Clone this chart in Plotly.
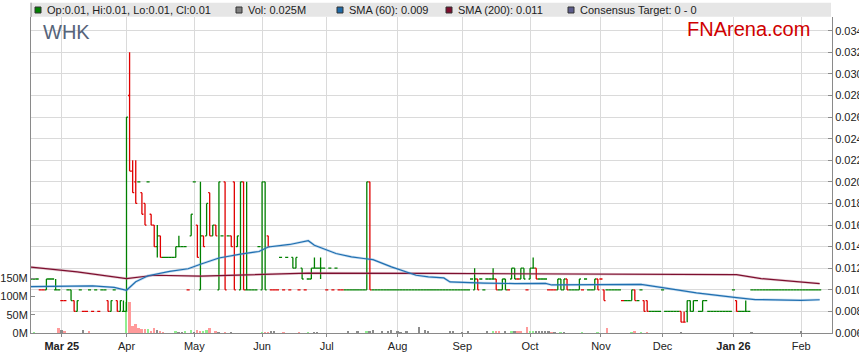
import pandas as pd
import plotly.graph_objects as go

# ---------------- data ----------------
trade_dates = pd.bdate_range("2025-02-17", periods=257)

opens = [
    0.011, 0.011, 0.011, 0.010, 0.010,   # Feb 17
    0.010, 0.011, 0.011, 0.010, 0.010,   # Feb 24
    0.009, 0.009, 0.010, 0.010, 0.009,   # Mar 3
    0.008, 0.010, 0.008, 0.008, 0.010,   # Mar 10
    0.008, 0.010, 0.008, 0.010, 0.010,   # Mar 17
    0.009, 0.008, 0.010, 0.009, 0.008,   # Mar 24
    0.008, 0.008, 0.028, 0.021, 0.020,   # Mar 31
    0.020, 0.019, 0.018, 0.020, 0.017,   # Apr 7
    0.016, 0.014, 0.015, 0.013, 0.013,   # Apr 14
    0.013, 0.013, 0.013, 0.014, 0.014,   # Apr 21
    0.014, 0.010, 0.015, 0.020, 0.016,   # Apr 28
    0.010, 0.015, 0.015, 0.019, 0.015,   # May 5
    0.016, 0.010, 0.015, 0.020, 0.015,   # May 12
    0.015, 0.020, 0.014, 0.010, 0.020,   # May 19
    0.010, 0.010, 0.010, 0.010, 0.014,   # May 26
    0.010, 0.020, 0.015, 0.010, 0.010,   # Jun 2
    0.010, 0.013, 0.010, 0.013, 0.010,   # Jun 9
    0.013, 0.012, 0.010, 0.012, 0.010,   # Jun 16
    0.011, 0.011, 0.012, 0.012, 0.012,   # Jun 23
    0.012, 0.010, 0.012, 0.010, 0.012,   # Jun 30
    0.010, 0.010, 0.010, 0.010, 0.010,   # Jul 7
    0.010, 0.010, 0.010, 0.010, 0.010,   # Jul 14
    0.020, 0.010, 0.010, 0.010, 0.010,   # Jul 21
    0.010, 0.010, 0.010, 0.010, 0.010,   # Jul 28
    0.010, 0.010, 0.010, 0.010, 0.010,   # Aug 4
    0.010, 0.010, 0.010, 0.010, 0.010,   # Aug 11
    0.010, 0.010, 0.010, 0.010, 0.010,   # Aug 18
    0.010, 0.010, 0.010, 0.010, 0.010,   # Aug 25
    0.010, 0.010, 0.010, 0.011, 0.010,   # Sep 1
    0.011, 0.011, 0.010, 0.011, 0.011,   # Sep 8
    0.011, 0.011, 0.010, 0.010, 0.011,   # Sep 15
    0.010, 0.011, 0.012, 0.011, 0.011,   # Sep 22
    0.012, 0.010, 0.011, 0.012, 0.012,   # Sep 29
    0.011, 0.011, 0.011, 0.010, 0.010,   # Oct 6
    0.010, 0.010, 0.011, 0.010, 0.011,   # Oct 13
    0.010, 0.010, 0.010, 0.010, 0.010,   # Oct 20
    0.011, 0.010, 0.010, 0.010, 0.011,   # Oct 27
    0.011, 0.010, 0.010, 0.010, 0.010,   # Nov 3
    0.010, 0.010, 0.009, 0.009, 0.009,   # Nov 10
    0.009, 0.010, 0.009, 0.010, 0.009,   # Nov 17
    0.009, 0.008, 0.008, 0.008, 0.008,   # Nov 24
    0.010, 0.008, 0.008, 0.008, 0.008,   # Dec 1
    0.008, 0.008, 0.007, 0.008, 0.009,   # Dec 8
    0.008, 0.009, 0.008, 0.008, 0.009,   # Dec 15
    0.008, 0.008, 0.008, 0.008, 0.008,   # Dec 22
    0.008, 0.008, 0.008, 0.010, 0.009,   # Dec 29
    0.008, 0.008, 0.008, 0.008, 0.010,   # Jan 5
    0.010, 0.010, 0.010, 0.010, 0.010,   # Jan 12
    0.010, 0.010, 0.010, 0.010, 0.010,   # Jan 19
    0.010, 0.010, 0.010, 0.010, 0.010,   # Jan 26
    0.010, 0.010, 0.010, 0.010, 0.010,   # Feb 2
    0.010, 0.010,                        # Feb 9
]
highs = [
    0.011, 0.011, 0.011, 0.010, 0.010,
    0.011, 0.011, 0.011, 0.011, 0.010,
    0.009, 0.009, 0.010, 0.010, 0.009,
    0.009, 0.010, 0.008, 0.008, 0.010,
    0.008, 0.010, 0.008, 0.010, 0.010,
    0.009, 0.009, 0.010, 0.009, 0.009,
    0.009, 0.026, 0.032, 0.022, 0.022,
    0.020, 0.019, 0.018, 0.020, 0.017,
    0.016, 0.016, 0.015, 0.013, 0.013,
    0.013, 0.013, 0.014, 0.015, 0.014,
    0.014, 0.010, 0.017, 0.020, 0.016,
    0.020, 0.015, 0.018, 0.019, 0.016,
    0.016, 0.020, 0.015, 0.020, 0.015,
    0.015, 0.020, 0.015, 0.020, 0.020,
    0.020, 0.010, 0.010, 0.010, 0.014,
    0.020, 0.020, 0.015, 0.010, 0.010,
    0.010, 0.013, 0.010, 0.013, 0.010,
    0.013, 0.013, 0.010, 0.012, 0.010,
    0.011, 0.012, 0.013, 0.012, 0.013,
    0.012, 0.010, 0.012, 0.010, 0.012,
    0.010, 0.010, 0.010, 0.010, 0.010,
    0.010, 0.010, 0.010, 0.010, 0.020,
    0.020, 0.010, 0.010, 0.010, 0.010,
    0.010, 0.010, 0.010, 0.010, 0.010,
    0.010, 0.010, 0.010, 0.010, 0.010,
    0.010, 0.010, 0.010, 0.010, 0.010,
    0.010, 0.010, 0.010, 0.010, 0.010,
    0.010, 0.010, 0.010, 0.010, 0.010,
    0.010, 0.010, 0.010, 0.011, 0.012,
    0.011, 0.011, 0.010, 0.011, 0.011,
    0.012, 0.011, 0.010, 0.011, 0.011,
    0.010, 0.012, 0.012, 0.011, 0.012,
    0.012, 0.010, 0.012, 0.013, 0.012,
    0.011, 0.011, 0.011, 0.010, 0.010,
    0.010, 0.011, 0.011, 0.011, 0.011,
    0.010, 0.010, 0.010, 0.011, 0.010,
    0.011, 0.010, 0.010, 0.011, 0.011,
    0.011, 0.010, 0.010, 0.010, 0.010,
    0.010, 0.010, 0.009, 0.009, 0.009,
    0.010, 0.010, 0.009, 0.010, 0.009,
    0.009, 0.008, 0.008, 0.008, 0.008,
    0.010, 0.008, 0.008, 0.008, 0.008,
    0.008, 0.008, 0.008, 0.009, 0.009,
    0.009, 0.009, 0.008, 0.009, 0.009,
    0.008, 0.008, 0.008, 0.008, 0.008,
    0.008, 0.008, 0.008, 0.010, 0.009,
    0.008, 0.008, 0.009, 0.008, 0.010,
    0.010, 0.010, 0.010, 0.010, 0.010,
    0.010, 0.010, 0.010, 0.010, 0.010,
    0.010, 0.010, 0.010, 0.010, 0.010,
    0.010, 0.010, 0.010, 0.010, 0.010,
    0.010, 0.010,
]
lows = [
    0.011, 0.011, 0.011, 0.010, 0.010,
    0.010, 0.011, 0.011, 0.010, 0.010,
    0.009, 0.009, 0.010, 0.009, 0.008,
    0.008, 0.010, 0.008, 0.008, 0.010,
    0.008, 0.010, 0.008, 0.010, 0.010,
    0.008, 0.008, 0.010, 0.008, 0.008,
    0.008, 0.008, 0.021, 0.019, 0.018,
    0.020, 0.017, 0.016, 0.020, 0.016,
    0.014, 0.013, 0.013, 0.013, 0.013,
    0.013, 0.013, 0.013, 0.014, 0.014,
    0.014, 0.010, 0.015, 0.020, 0.013,
    0.010, 0.014, 0.015, 0.015, 0.015,
    0.015, 0.010, 0.015, 0.010, 0.015,
    0.014, 0.010, 0.014, 0.010, 0.010,
    0.010, 0.010, 0.010, 0.010, 0.014,
    0.010, 0.010, 0.014, 0.010, 0.010,
    0.010, 0.013, 0.010, 0.013, 0.010,
    0.012, 0.012, 0.010, 0.011, 0.010,
    0.011, 0.011, 0.012, 0.012, 0.011,
    0.012, 0.010, 0.012, 0.010, 0.012,
    0.010, 0.010, 0.010, 0.010, 0.010,
    0.010, 0.010, 0.010, 0.010, 0.010,
    0.010, 0.010, 0.010, 0.010, 0.010,
    0.010, 0.010, 0.010, 0.010, 0.010,
    0.010, 0.010, 0.010, 0.010, 0.010,
    0.010, 0.010, 0.010, 0.010, 0.010,
    0.010, 0.010, 0.010, 0.010, 0.010,
    0.010, 0.010, 0.010, 0.010, 0.010,
    0.010, 0.010, 0.010, 0.011, 0.010,
    0.010, 0.011, 0.010, 0.011, 0.011,
    0.011, 0.010, 0.010, 0.010, 0.010,
    0.010, 0.011, 0.011, 0.011, 0.011,
    0.011, 0.010, 0.011, 0.012, 0.011,
    0.011, 0.011, 0.011, 0.010, 0.010,
    0.010, 0.010, 0.010, 0.010, 0.010,
    0.010, 0.010, 0.010, 0.010, 0.010,
    0.011, 0.010, 0.010, 0.010, 0.010,
    0.011, 0.009, 0.010, 0.010, 0.010,
    0.010, 0.010, 0.009, 0.009, 0.009,
    0.009, 0.009, 0.009, 0.010, 0.008,
    0.008, 0.008, 0.008, 0.008, 0.008,
    0.010, 0.008, 0.008, 0.008, 0.008,
    0.008, 0.007, 0.007, 0.007, 0.008,
    0.008, 0.009, 0.008, 0.008, 0.009,
    0.008, 0.008, 0.008, 0.008, 0.008,
    0.008, 0.008, 0.008, 0.010, 0.008,
    0.008, 0.008, 0.008, 0.008, 0.010,
    0.010, 0.010, 0.010, 0.010, 0.010,
    0.010, 0.010, 0.010, 0.010, 0.010,
    0.010, 0.010, 0.010, 0.010, 0.010,
    0.010, 0.010, 0.010, 0.010, 0.010,
    0.010, 0.010,
]
closes = [
    0.011, 0.011, 0.011, 0.010, 0.010,
    0.011, 0.011, 0.011, 0.010, 0.010,
    0.009, 0.009, 0.010, 0.009, 0.008,
    0.009, 0.010, 0.008, 0.008, 0.010,
    0.008, 0.010, 0.008, 0.010, 0.010,
    0.008, 0.009, 0.010, 0.008, 0.009,
    0.008, 0.026, 0.021, 0.019, 0.018,
    0.020, 0.017, 0.016, 0.020, 0.016,
    0.014, 0.015, 0.013, 0.013, 0.013,
    0.013, 0.013, 0.014, 0.014, 0.014,
    0.014, 0.010, 0.017, 0.020, 0.013,
    0.015, 0.014, 0.018, 0.015, 0.016,
    0.015, 0.020, 0.015, 0.010, 0.015,
    0.014, 0.010, 0.015, 0.020, 0.010,
    0.010, 0.010, 0.010, 0.010, 0.014,
    0.020, 0.010, 0.014, 0.010, 0.010,
    0.010, 0.013, 0.010, 0.013, 0.010,
    0.012, 0.013, 0.010, 0.011, 0.010,
    0.011, 0.012, 0.012, 0.012, 0.012,
    0.012, 0.010, 0.012, 0.010, 0.012,
    0.010, 0.010, 0.010, 0.010, 0.010,
    0.010, 0.010, 0.010, 0.010, 0.020,
    0.010, 0.010, 0.010, 0.010, 0.010,
    0.010, 0.010, 0.010, 0.010, 0.010,
    0.010, 0.010, 0.010, 0.010, 0.010,
    0.010, 0.010, 0.010, 0.010, 0.010,
    0.010, 0.010, 0.010, 0.010, 0.010,
    0.010, 0.010, 0.010, 0.010, 0.010,
    0.010, 0.010, 0.010, 0.011, 0.011,
    0.010, 0.011, 0.010, 0.011, 0.011,
    0.011, 0.010, 0.010, 0.011, 0.010,
    0.010, 0.012, 0.011, 0.011, 0.012,
    0.011, 0.010, 0.012, 0.012, 0.011,
    0.011, 0.011, 0.011, 0.010, 0.010,
    0.010, 0.011, 0.010, 0.011, 0.010,
    0.010, 0.010, 0.010, 0.011, 0.010,
    0.011, 0.010, 0.010, 0.011, 0.010,
    0.011, 0.009, 0.010, 0.010, 0.010,
    0.010, 0.010, 0.009, 0.009, 0.009,
    0.010, 0.009, 0.009, 0.010, 0.008,
    0.008, 0.008, 0.008, 0.008, 0.008,
    0.010, 0.008, 0.008, 0.008, 0.008,
    0.008, 0.007, 0.007, 0.009, 0.008,
    0.009, 0.009, 0.008, 0.009, 0.009,
    0.008, 0.008, 0.008, 0.008, 0.008,
    0.008, 0.008, 0.008, 0.010, 0.008,
    0.008, 0.008, 0.008, 0.008, 0.010,
    0.010, 0.010, 0.010, 0.010, 0.010,
    0.010, 0.010, 0.010, 0.010, 0.010,
    0.010, 0.010, 0.010, 0.010, 0.010,
    0.010, 0.010, 0.010, 0.010, 0.010,
    0.010, 0.010,
]
# colour each bar is drawn in: u = green, d = red (one letter per trading day, 5 per week)
bar_dir = list(
    "uuudd" "uuuuu" "dduud" "uuddu" "duduu" "duudu"      # Feb 17 - Mar 28
    "uuddd" "uddud" "duduu" "uuuuu" "uduud" "ududu"      # Mar 31 - May 9
    "duudu" "dduud" "uuuuu" "uuddd"                      # May 12 - Jun 6
    "dudud" "uudud" "uuuuu" "ududu" "dduuu"              # Jun 9 - Jul 11
    "uuuuu" "duuuu" "uuuuu" "uuuuu" "uuuuu" "uuuuu" "uuuuu"  # Jul 14 - Aug 29
    "uuuuu" "duuuu" "uduuu" "duudu" "uduud"              # Sep 1 - Oct 3
    "uuudd" "duuud" "uuuud" "uuuud" "dduuu"              # Oct 6 - Nov 7
    "uuduu" "uduud" "duuuu" "uuuuu" "udduu"              # Nov 10 - Dec 12
    "uuuuu" "uuuuu" "uuuud" "uuuuu"                      # Dec 15 - Jan 9
    "uuuuu" "uuuuu" "uuuuu" "uuuuu" "uu"                 # Jan 12 - Feb 10
)

# daily volume in millions of shares and the colour class of each volume bar
volume_m = [
    0, 1, 0, 0, 0,   0, 0, 0, 0, 14,   9, 3, 0, 0, 0,   0, 0, 8, 0, 3,
    0, 0, 0, 0, 0,   0, 0, 0, 0, 0,   0, 85, 86, 20, 24,   15, 11, 11, 11, 4,
    14, 7, 4, 2, 0,   0, 0, 4, 2, 2,   3, 0, 7, 2, 7,   3, 3, 9, 14, 0,
    5, 2, 0, 2, 0,   2, 0, 0, 0, 0,   0, 0, 0, 0, 0,   2, 2, 2, 3, 4,
    0, 0, 2, 0, 0,   0, 0, 2, 0, 0,   2, 0, 2, 2, 0,   0, 0, 0, 0, 0,
    0, 0, 0, 6, 0,   0, 3, 0, 0, 3,   5, 8, 0, 0, 3,   0, 4, 7, 0, 4,
    2, 0, 4, 0, 0,   0, 17, 0, 8, 4,   0, 0, 0, 0, 0,   0, 6, 3, 0, 0,
    2, 0, 4, 0, 0,   0, 0, 0, 3, 0,   3, 5, 5, 0, 3,   0, 4, 3, 4, 3,
    0, 17, 4, 3, 3,   4, 5, 4, 4, 2,   2, 0, 1, 2, 0,   0, 0, 0, 0, 2,
    0, 0, 0, 0, 2,   0, 0, 13, 0, 0,   0, 0, 0, 0, 0,   2, 4, 0, 2, 0,
    2, 0, 0, 0, 0,   0, 0, 0, 0, 0,   0, 2, 0, 0, 0,   0, 0, 0, 0, 0,
    0, 0, 0, 0, 0,   0, 0, 0, 0, 0,   0, 0, 0, 0, 2,   0, 0, 0, 0, 0,
    0, 0, 0, 0, 0,   0, 0, 0, 0, 0,   3, 0, 0, 0, 0,   0, 0,
]
vol_dir = list(
    "-g---" "----r" "nr---" "--n-r" "-----" "-----" "-grrr" "rrrgr"
    "rnrr-" "--gnn" "g-gnr" "rggr-" "rn-r-" "n----" "-----" "grrnn"
    "--r--" "--r--" "g-nn-" "-----" "---n-" "-n--g" "nn--n" "-nn-n"
    "n-n--" "-n-nn" "-----" "-nn--" "n-n--" "---n-" "grr-n" "-gnrr"
    "-rggn" "nnnnr" "n-gn-" "----g" "----g" "--r--" "-----" "gr-g-"
    "r----" "-----" "-n---" "-----" "-----" "-----" "----n" "-----"
    "-----" "-----" "n----" "--"
)

# moving averages
sma60_dates = [
    "2025-02-17", "2025-03-03", "2025-03-17", "2025-03-26", "2025-04-01",
    "2025-04-04", "2025-04-10", "2025-04-21", "2025-04-29", "2025-05-05",
    "2025-05-13", "2025-05-22", "2025-05-30", "2025-06-04", "2025-06-13",
    "2025-06-23", "2025-06-25", "2025-07-04", "2025-07-11", "2025-07-17",
    "2025-07-22", "2025-07-30", "2025-08-06", "2025-08-11", "2025-08-15",
    "2025-08-22", "2025-08-26", "2025-09-01", "2025-09-10", "2025-09-24",
    "2025-10-08", "2025-10-10", "2025-10-31", "2025-11-20", "2025-12-01",
    "2025-12-16", "2026-01-02", "2026-01-12", "2026-02-02", "2026-02-10",
]
sma60_values = [
    0.01030, 0.01036, 0.01036, 0.01022, 0.00996,
    0.01075, 0.01130, 0.01170, 0.01195, 0.01237,
    0.01295, 0.01330, 0.01355, 0.01397, 0.01420,
    0.01455, 0.01412, 0.01336, 0.01305, 0.01290,
    0.01280, 0.01212, 0.01166, 0.01135, 0.01120,
    0.01110, 0.01073, 0.01067, 0.01062, 0.01058,
    0.01060, 0.01045, 0.01050, 0.01050, 0.01020,
    0.00971, 0.00928, 0.00910, 0.00903, 0.00908,
]
sma200_dates = [
    "2025-02-17", "2025-03-10", "2025-04-01", "2025-04-14", "2025-05-05",
    "2025-06-03", "2025-06-23", "2025-08-18", "2025-12-01", "2026-01-02",
    "2026-01-14", "2026-02-02", "2026-02-10",
]
sma200_values = [
    0.01210, 0.01166, 0.01104, 0.01135, 0.01126,
    0.01144, 0.01155, 0.01152, 0.01146, 0.01140,
    0.01104, 0.01072, 0.01058,
]

month_ticks = ["2025-03-03", "2025-04-01", "2025-05-01", "2025-06-02", "2025-07-01",
               "2025-08-01", "2025-09-01", "2025-10-01", "2025-11-03", "2025-12-01",
               "2026-01-01", "2026-02-02"]
month_labels = ["<b>Mar 25</b>", "Apr", "May", "Jun", "Jul", "Aug", "Sep", "Oct",
                "Nov", "Dec", "<b>Jan 26</b>", "Feb"]
price_ticks = [0.006, 0.008, 0.010, 0.012, 0.014, 0.016, 0.018, 0.020,
               0.022, 0.024, 0.026, 0.028, 0.030, 0.032, 0.034]
volume_ticks_m = [0, 50, 100, 150]

# ---------------- styling ----------------
GREEN = "#008000"
RED = "#e00000"
FONT = "Arial, Liberation Sans, sans-serif"
GRID = "#dadada"
AXIS = "#8a8a8a"
VOL_COLORS = {"g": "#90ee90", "r": "#ff9a9a", "n": "#8c8c8c", "-": "rgba(0,0,0,0)"}

W, H = 859, 363
ML, MR, MT, MB = 31, 27, 17, 30
PW, PH = W - ML - MR, H - MT - MB


def px(x):
    return (x - ML) / PW


def py(y):
    return (H - MB - y) / PH


fig = go.Figure()

# volume (main y axis, left)
fig.add_trace(go.Bar(
    x=trade_dates, y=[v * 1e6 for v in volume_m],
    marker=dict(color=[VOL_COLORS[c] for c in vol_dir], line=dict(width=0)),
    width=0.62 * 86400000, yaxis="y", hoverinfo="skip", showlegend=False,
))

# moving averages (soft halo + core line)
for dates, vals, halo, core in (
    (sma200_dates, sma200_values, "rgba(190,120,140,0.35)", "#7d0f2f"),
    (sma60_dates, sma60_values, "rgba(100,160,215,0.35)", "#1f6fb0"),
):
    fig.add_trace(go.Scatter(x=pd.to_datetime(dates), y=vals, mode="lines",
                             line=dict(color=halo, width=2.6),
                             yaxis="y2", hoverinfo="skip", showlegend=False))
    fig.add_trace(go.Scatter(x=pd.to_datetime(dates), y=vals, mode="lines",
                             line=dict(color=core, width=1.2),
                             yaxis="y2", hoverinfo="skip", showlegend=False))

# OHLC bars split by drawn colour
for key, col in (("u", GREEN), ("d", RED)):
    idx = [i for i, d in enumerate(bar_dir) if d == key]
    fig.add_trace(go.Ohlc(
        x=[trade_dates[i] for i in idx],
        open=[opens[i] for i in idx], high=[highs[i] for i in idx],
        low=[lows[i] for i in idx], close=[closes[i] for i in idx],
        increasing=dict(line=dict(color=col, width=1.3)),
        decreasing=dict(line=dict(color=col, width=1.3)),
        tickwidth=0.5, yaxis="y2", hoverinfo="skip", showlegend=False,
    ))

# header bar and legend items
shapes = [
    dict(type="rect", xref="paper", yref="paper", x0=px(31), x1=px(831),
         y0=py(16.7), y1=py(2.7), fillcolor="#e6e6e6", line=dict(width=0), layer="below"),
    dict(type="line", xref="paper", yref="paper", x0=0, x1=0, y0=1, y1=py(2.7),
         line=dict(color=AXIS, width=1)),
]
legend_items = [
    (35, "#008000", "Op:0.01, Hi:0.01, Lo:0.01, Cl:0.01"),
    (236, "#808080", "Vol: 0.025M"),
    (337, "#1f6aa8", "SMA (60): 0.009"),
    (446, "#7d0f2f", "SMA (200): 0.011"),
    (568, "#5c5c8c", "Consensus Target: 0 - 0"),
]
annotations = []
for x0, col, txt in legend_items:
    shapes.append(dict(type="rect", xref="paper", yref="paper", x0=px(x0), x1=px(x0 + 6),
                       y0=py(13), y1=py(7), fillcolor=col, line=dict(color="#333333", width=1)))
    annotations.append(dict(xref="paper", yref="paper", x=px(x0 + 10), y=py(10), text=txt,
                            showarrow=False, xanchor="left", yanchor="middle",
                            font=dict(family=FONT, size=11, color="#222222")))
annotations.append(dict(xref="paper", yref="paper", x=px(41), y=py(32), text="WHK",
                        showarrow=False, xanchor="left", yanchor="middle",
                        font=dict(family=FONT, size=20, color="#56647a")))
annotations.append(dict(xref="paper", yref="paper", x=px(685), y=py(29.5), text="FNArena.com",
                        showarrow=False, xanchor="left", yanchor="middle",
                        font=dict(family=FONT, size=20, color="#d00000")))

axis_font = dict(family=FONT, size=11, color="#222222")
fig.update_layout(
    width=W, height=H, autosize=False,
    margin=dict(l=ML, r=MR, t=MT, b=MB, pad=0, autoexpand=False),
    paper_bgcolor="white", plot_bgcolor="white",
    font=dict(family=FONT, size=11, color="#222222"),
    showlegend=False, bargap=0,
    shapes=shapes, annotations=annotations,
    xaxis=dict(
        type="date", range=["2025-02-17", "2026-02-14"], automargin=False,
        rangebreaks=[dict(bounds=["sat", "mon"])],
        tickvals=pd.to_datetime(month_ticks), ticktext=month_labels,
        showgrid=True, gridcolor=GRID, gridwidth=1,
        showline=True, linecolor=AXIS, linewidth=1,
        ticks="outside", ticklen=3, tickcolor=AXIS, tickfont=axis_font,
        rangeslider=dict(visible=False), zeroline=False,
    ),
    yaxis=dict(
        side="left", range=[0, 863e6], automargin=False,
        tickvals=[v * 1e6 for v in volume_ticks_m],
        ticktext=[f"{v}M" for v in volume_ticks_m],
        showgrid=False, zeroline=False,
        showline=True, linecolor=AXIS, linewidth=1,
        ticks="inside", ticklen=4, tickcolor=AXIS, tickfont=axis_font,
    ),
    yaxis2=dict(
        side="right", overlaying="y", anchor="x", range=[0.006, 0.03527], automargin=False,
        tickvals=price_ticks, tickformat=".3f",
        showgrid=True, gridcolor=GRID, gridwidth=1, zeroline=False,
        showline=True, linecolor=AXIS, linewidth=1,
        ticks="inside", ticklen=4, tickcolor=AXIS, tickfont=axis_font,
    ),
)

fig.write_html("out.html", config={"displayModeBar": False},
               post_script="document.body.style.margin='0px';document.body.style.padding='0px';")
